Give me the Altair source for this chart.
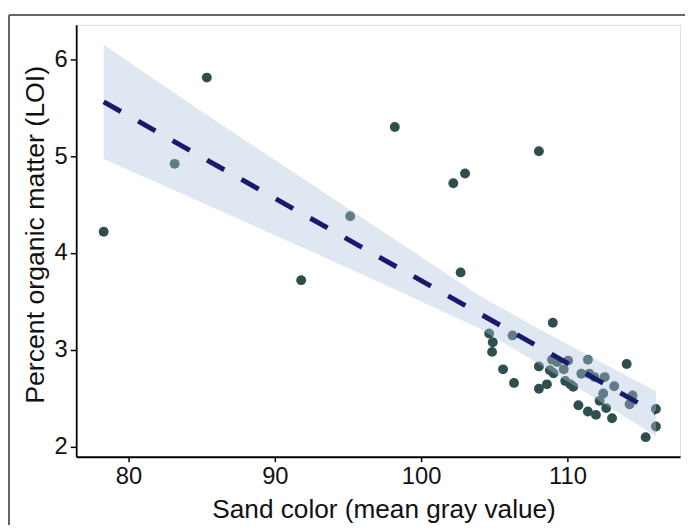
import altair as alt
import pandas as pd

# scatter points
sand_x = [78.3, 83.15, 85.35, 91.8, 95.15, 98.2, 102.2, 103.0, 108.05, 102.7,
          109.0, 104.65, 106.25, 104.9, 104.85, 105.6, 106.35, 108.05, 108.95, 108.8,
          109.05, 109.3, 110.05, 109.75, 108.05, 108.6, 109.85, 110.2, 110.4, 111.4,
          110.95, 111.5, 111.85, 112.55, 113.2, 112.45, 112.2, 112.65, 110.75, 111.4,
          111.95, 113.05, 114.05, 114.45, 114.25, 116.05, 116.05, 115.35]
loi_y = [4.22, 4.92, 5.81, 3.72, 4.38, 5.30, 4.72, 4.82, 5.05, 3.80,
         3.28, 3.17, 3.15, 3.08, 2.98, 2.80, 2.66, 2.83, 2.90, 2.79,
         2.76, 2.875, 2.89, 2.80, 2.60, 2.645, 2.68, 2.645, 2.62, 2.90,
         2.755, 2.755, 2.72, 2.72, 2.625, 2.55, 2.475, 2.40, 2.43, 2.365,
         2.33, 2.295, 2.855, 2.53, 2.44, 2.39, 2.21, 2.10]

# fitted line and its confidence band
fit_x = [78.3, 116.05]
fit_y = [5.56, 2.35]
band_x = [78.3, 85, 92, 98, 104, 108, 112, 116.05]
band_lo = [4.97, 4.52, 4.05, 3.64, 3.22, 2.86, 2.49, 2.11]
band_hi = [6.15, 5.46, 4.76, 4.16, 3.56, 3.22, 2.90, 2.575]

x_ticks = [80, 90, 100, 110]
y_ticks = [2, 3, 4, 5, 6]

pts = pd.DataFrame({"x": sand_x, "y": loi_y})
fit = pd.DataFrame({"x": fit_x, "y": fit_y})
band = pd.DataFrame({"x": band_x, "lo": band_lo, "hi": band_hi})

FONT = "Liberation Sans"
xscale = alt.Scale(domain=[76.42, 117.7], nice=False, zero=False)
yscale = alt.Scale(domain=[1.898, 6.354], nice=False, zero=False)

xaxis = alt.Axis(values=x_ticks, format="d", title="Sand color (mean gray value)", grid=False,
                 domainColor="black", domainWidth=1.8, tickColor="black", tickWidth=1.5,
                 tickSize=5, labelFontSize=24, labelColor="#111111", labelFont=FONT,
                 labelPadding=3, titleFont=FONT, titleFontSize=26.5, titleFontWeight="normal",
                 titleColor="#111111", titleX=311, titleY=61, titleBaseline="alphabetic",
                 titleAlign="center")
yaxis = alt.Axis(values=y_ticks, format="d", title="Percent organic matter (LOI)", grid=False,
                 domainColor="black", domainWidth=1.8, tickColor="black", tickWidth=1.5,
                 tickSize=6, labelFontSize=24, labelColor="#111111", labelFont=FONT,
                 labelPadding=3, titleFont=FONT, titleFontSize=27, titleFontWeight="normal",
                 titleColor="#111111", titleX=-33, titleY=212, titleBaseline="alphabetic",
                 titleAlign="center", titleAngle=270)

points = alt.Chart(pts).mark_circle(size=100, color="#2F4F4F", opacity=1).encode(
    x=alt.X("x:Q", scale=xscale, axis=xaxis),
    y=alt.Y("y:Q", scale=yscale, axis=yaxis),
)
ribbon = alt.Chart(band).mark_area(color="lightsteelblue", opacity=0.4).encode(
    x=alt.X("x:Q", scale=xscale),
    y=alt.Y("lo:Q", scale=yscale),
    y2="hi:Q",
)
line = alt.Chart(fit).mark_line(color="midnightblue", strokeWidth=5,
                                 strokeDash=[20, 20]).encode(
    x=alt.X("x:Q", scale=xscale),
    y=alt.Y("y:Q", scale=yscale),
)
frame_v = alt.Chart(pts).mark_rule(color="#666666", strokeWidth=1.2).encode(
    x=alt.value(-68), y=alt.value(-10), y2=alt.value(600))
frame_h = alt.Chart(pts).mark_rule(color="#666666", strokeWidth=1.2).encode(
    x=alt.value(-68), x2=alt.value(700), y=alt.value(-10))

chart = alt.layer(points, ribbon, line, frame_v, frame_h).properties(
    width=611, height=437,
    autosize=alt.AutoSizeParams(type="none"),
    padding={"left": 69, "top": 14, "right": 5, "bottom": 66},
).configure_view(stroke=None).configure(background="white")

chart.save("out.html", embed_options={"renderer": "svg", "actions": False})
